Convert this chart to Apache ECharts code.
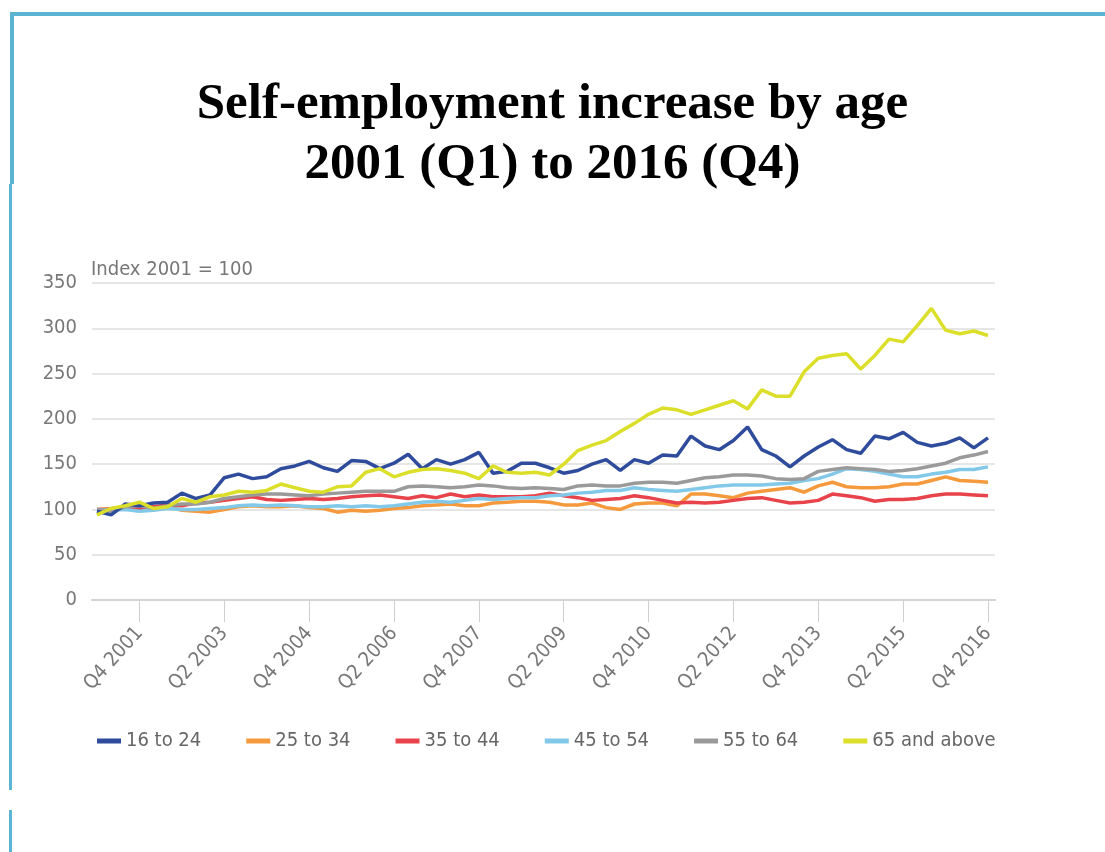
<!DOCTYPE html>
<html>
<head>
<meta charset="utf-8">
<script src="https://cdn.jsdelivr.net/npm/echarts@6/dist/echarts.min.js"></script>
<style>
html,body{margin:0;padding:0;background:#fff;}
#chart{width:1105px;height:852px;}
</style>
</head>
<body>
<div id="chart"></div>
<script>
// Quarters Q1 2001 .. Q4 2016
const quarters = [];
for (let y = 2001; y <= 2016; y++) { for (let q = 1; q <= 4; q++) quarters.push('Q' + q + ' ' + y); }

const seriesNames = ['16 to 24', '25 to 34', '35 to 44', '45 to 54', '55 to 64', '65 and above'];

const age16to24 = [98,94,106,104,107,108,118,112,116,135,139,134,136,145,148,153,146,142,154,153,145,151,161,145,155,150,155,163,140,142,151,151,146,140,143,150,155,143,155,151,160,159,181,170,166,176,191,166,159,147,159,169,177,166,162,181,178,185,174,170,173,179,168,179];
const age25to34 = [100,101,103,104,103,103,99,98,97,100,103,104,103,103,104,102,101,97,99,98,99,101,102,104,105,106,104,104,107,108,109,109,108,105,105,107,102,100,106,107,107,104,117,117,115,113,118,120,122,124,119,126,130,125,124,124,125,128,128,132,136,132,131,130];
const age35to44 = [100,100,102,101,103,105,104,107,108,110,112,114,111,110,111,112,111,112,114,115,116,114,112,115,113,117,114,116,114,114,114,115,118,115,113,110,111,112,115,113,110,107,108,107,108,110,112,113,110,107,108,110,117,115,113,109,111,111,112,115,117,117,116,115];
const age45to54 = [100,99,100,98,99,101,100,100,101,102,104,105,104,105,104,103,103,104,103,104,103,104,106,108,109,108,110,112,111,112,113,113,115,116,118,119,121,121,124,122,121,120,122,124,126,127,127,127,128,129,132,134,139,145,144,142,139,136,136,139,141,144,144,147];
const age55to64 = [100,98,103,104,101,104,106,106,108,112,114,116,117,117,116,115,117,118,119,120,120,120,125,126,125,124,125,127,126,124,123,124,123,122,126,127,126,126,129,130,130,129,132,135,136,138,138,137,134,133,134,142,144,146,145,144,142,143,145,148,151,157,160,164];
const age65plus = [94,101,104,108,101,103,112,108,114,116,120,119,121,128,124,120,119,125,126,141,145,136,141,144,145,143,140,134,148,141,140,141,138,150,165,171,176,186,195,205,212,210,205,210,215,220,211,232,225,225,252,267,270,272,255,270,288,285,303,322,298,294,297,292];

const yTicks = [0, 50, 100, 150, 200, 250, 300, 350];
const colors = ['#2f4b9c', '#f59a3c', '#e8434a', '#82c9e9', '#9a9a9a', '#dcdf2a'];
const allData = [age16to24, age25to34, age35to44, age45to54, age55to64, age65plus];

const labelFont = '"DejaVu Sans Condensed", "Liberation Sans Narrow", "Open Sans", sans-serif';

const chart = echarts.init(document.getElementById('chart'));
chart.setOption({
  backgroundColor: '#ffffff',
  animation: false,
  title: {
    text: 'Self-employment increase by age\n2001 (Q1) to 2016 (Q4)',
    left: 'center',
    top: 70,
    textStyle: {
      fontFamily: '"Liberation Serif", "DejaVu Serif", serif',
      fontWeight: 'bold',
      fontSize: 51,
      lineHeight: 60,
      color: '#000'
    }
  },
  graphic: [
    { type: 'rect', shape: { x: 10, y: 12, width: 1095, height: 4 }, style: { fill: '#5ab4d2' } },
    { type: 'rect', shape: { x: 10, y: 12, width: 4, height: 172 }, style: { fill: '#5ab4d2' } },
    { type: 'rect', shape: { x: 9, y: 184, width: 3, height: 606 }, style: { fill: '#5ab4d2' } },
    { type: 'rect', shape: { x: 9, y: 810, width: 3, height: 42 }, style: { fill: '#5ab4d2' } },
    { type: 'text', left: 91, top: 260, style: { text: 'Index 2001 = 100', font: '20px ' + labelFont, fill: '#777' } }
  ],
  legend: {
    data: seriesNames,
    left: 97,
    top: 731,
    padding: 0,
    itemWidth: 24,
    itemHeight: 5,
    itemGap: 45,
    icon: 'rect',
    textStyle: { fontFamily: labelFont, fontSize: 20, color: '#666' }
  },
  grid: [
    { left: 97, right: 117, top: 283, bottom: 252, containLabel: false },
    { left: 92, right: 110, top: 283, bottom: 252, containLabel: false }
  ],
  xAxis: [{
    type: 'category',
    gridIndex: 0,
    data: quarters,
    boundaryGap: false,
    axisLine: { show: false },
    axisTick: { show: true, alignWithLabel: true, interval: (i) => i % 6 === 3, length: 22, lineStyle: { color: '#cfcfcf', width: 1 } },
    axisLabel: { interval: (i) => i % 6 === 3, rotate: 48, margin: 30, fontFamily: labelFont, fontSize: 20, color: '#777' },
    splitLine: { show: false }
  }, {
    type: 'value',
    gridIndex: 1,
    min: 0, max: 1,
    axisLine: { show: true, lineStyle: { color: '#d4d4d4', width: 2 } },
    axisTick: { show: false },
    axisLabel: { show: false },
    splitLine: { show: false }
  }],
  yAxis: [{
    type: 'value',
    gridIndex: 0,
    min: yTicks[0],
    max: yTicks[yTicks.length - 1],
    interval: 50,
    axisLine: { show: false },
    axisTick: { show: false },
    axisLabel: { margin: 20, padding: [8, 0, 0, 0], fontFamily: labelFont, fontSize: 20, color: '#777' },
    splitLine: { show: false }
  }, {
    type: 'value',
    gridIndex: 1,
    min: yTicks[0],
    max: yTicks[yTicks.length - 1],
    interval: 50,
    axisLine: { show: false },
    axisTick: { show: false },
    axisLabel: { show: false },
    splitLine: { lineStyle: { color: '#e6e6e6', width: 2 } }
  }],
  series: seriesNames.map((n, k) => ({
    name: n,
    type: 'line',
    xAxisIndex: 0,
    yAxisIndex: 0,
    data: allData[k],
    showSymbol: false,
    symbol: 'none',
    lineStyle: { width: 3.5, color: colors[k] },
    itemStyle: { color: colors[k] },
    z: k === 0 ? 8 : (k === 5 ? 9 : 2 + k)
  }))
});
</script>
</body>
</html>
